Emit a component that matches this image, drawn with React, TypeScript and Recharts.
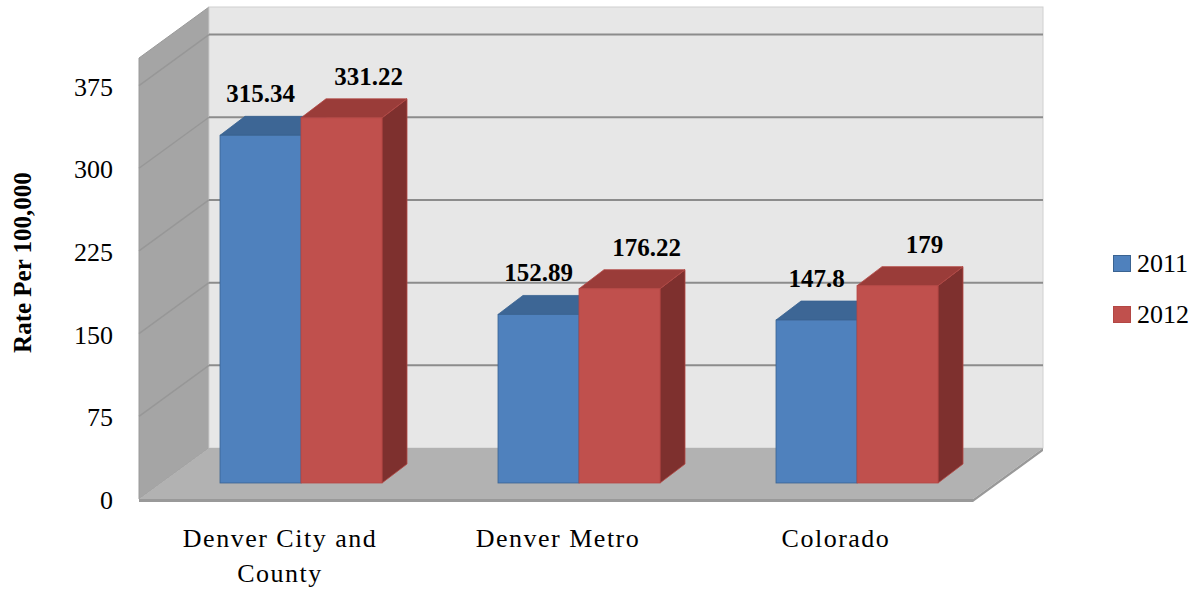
import React from "react";
import {
  Bar,
  BarChart,
  LabelList,
  Legend,
  ReferenceArea,
  ReferenceLine,
  XAxis,
  YAxis,
} from "recharts";

const categories = ["Denver City and County", "Denver Metro", "Colorado"];
const rate2011 = [315.34, 152.89, 147.8];
const rate2012 = [331.22, 176.22, 179];
const yTicks = [0, 75, 150, 225, 300, 375];
const gridValues = [75, 150, 225, 300, 375];

const data = categories.map((name, i) => ({
  name,
  y2011: rate2011[i],
  y2012: rate2012[i],
}));

const FONT = '"Liberation Serif", "Times New Roman", serif';

// offsets of the back wall / front edge relative to the plane the bars stand on
const BACK = { dx: 47, dy: -35 };
const FRONT = { dx: -23, dy: 16 };
const BAR_DEPTH = { dx: 25, dy: -19 };

const SERIES = [
  { key: "y2011", name: "2011", front: "#4F81BD", top: "#3D6695", side: "#3A5F8B", edge: "#3A6391", labelShift: 0 },
  { key: "y2012", name: "2012", front: "#C0504D", top: "#9A3C39", side: "#7E302E", edge: "#B34744", labelShift: 27 },
];

const Walls = (props: any) => {
  const { x, y, width, height } = props;
  const b = y + height;
  const bx = x + BACK.dx;
  const fx = x + FRONT.dx;
  return (
    <g>
      <polygon
        points={`${fx},${y + FRONT.dy} ${bx},${y + BACK.dy} ${bx},${b + BACK.dy} ${fx},${b + FRONT.dy}`}
        fill="#A5A5A5"
        stroke="#9A9A9A"
      />
      <rect x={bx} y={y + BACK.dy} width={width} height={height} fill="#E7E7E7" stroke="#D0D0D0" />
      <polygon
        points={`${fx},${b + FRONT.dy} ${bx},${b + BACK.dy} ${bx + width},${b + BACK.dy} ${fx + width},${b + FRONT.dy}`}
        fill="#B2B2B2"
      />
      <polygon
        points={`${fx},${b + FRONT.dy} ${fx + width},${b + FRONT.dy} ${bx + width},${b + BACK.dy} ${bx + width},${b + BACK.dy + 3} ${fx + width},${b + FRONT.dy + 3} ${fx},${b + FRONT.dy + 3}`}
        fill="#999999"
      />
    </g>
  );
};

const GridLine = (props: any) => {
  const { x1, y1, x2 } = props;
  return (
    <g>
      <line
        x1={x1 + FRONT.dx}
        y1={y1 + FRONT.dy}
        x2={x1 + BACK.dx}
        y2={y1 + BACK.dy}
        stroke="#979797"
        strokeWidth={1.5}
      />
      <line
        x1={x1 + BACK.dx}
        y1={y1 + BACK.dy}
        x2={x2 + BACK.dx}
        y2={y1 + BACK.dy}
        stroke="#8C8C8C"
        strokeWidth={2}
      />
    </g>
  );
};

const boxShape = (s: (typeof SERIES)[number]) => (props: any) => {
  const { x, y, width: w, height: h } = props;
  const { dx, dy } = BAR_DEPTH;
  return (
    <g>
      <polygon
        points={`${x + w},${y} ${x + w + dx},${y + dy} ${x + w + dx},${y + h + dy} ${x + w},${y + h}`}
        fill={s.side}
        stroke={s.edge}
        strokeWidth={0.8}
      />
      <polygon
        points={`${x},${y} ${x + dx},${y + dy} ${x + w + dx},${y + dy} ${x + w},${y}`}
        fill={s.top}
        stroke={s.edge}
        strokeWidth={0.8}
      />
      <rect x={x} y={y} width={w} height={h} fill={s.front} stroke={s.edge} strokeWidth={0.8} />
    </g>
  );
};

const valueLabel = (shift: number) => (props: any) => {
  const vb = props.viewBox ?? props;
  return (
    <text
      x={vb.x + vb.width / 2 + shift}
      y={vb.y - 33}
      textAnchor="middle"
      fontFamily={FONT}
      fontSize={25}
      fontWeight="bold"
      fill="#000"
    >
      {props.value}
    </text>
  );
};

const wrap = (label: string, max: number) => {
  const lines: string[] = [];
  let cur = "";
  label.split(" ").forEach((word) => {
    const next = cur ? `${cur} ${word}` : word;
    if (next.length > max && cur) {
      lines.push(cur);
      cur = word;
    } else {
      cur = next;
    }
  });
  if (cur) lines.push(cur);
  return lines;
};

const CategoryTick = (props: any) => {
  const { x, y, payload } = props;
  const cx = x + FRONT.dx + 2;
  return (
    <text
      x={cx}
      y={y + 64}
      textAnchor="middle"
      fontFamily={FONT}
      fontSize={26}
      letterSpacing={1.5}
      fill="#000"
    >
      {wrap(payload.value, 15).map((line, i) => (
        <tspan key={i} x={cx} dy={i ? 35 : 0}>
          {line}
        </tspan>
      ))}
    </text>
  );
};

const ValueTick = (props: any) => {
  const { x, y, payload } = props;
  return (
    <text x={x - 49} y={y + 26} textAnchor="end" fontFamily={FONT} fontSize={26} fill="#000">
      {payload.value}
    </text>
  );
};

const AxisTitle = (props: any) => {
  const vb = props.viewBox ?? { x: 0, y: 42, width: 162, height: 441 };
  const cx = vb.x + 22;
  const cy = vb.y + vb.height / 2;
  return (
    <text
      x={cx}
      y={cy}
      transform={`rotate(-90 ${cx} ${cy})`}
      textAnchor="middle"
      dominantBaseline="central"
      fontFamily={FONT}
      fontSize={25}
      fontWeight="bold"
      fill="#000"
    >
      Rate Per 100,000
    </text>
  );
};

const LegendBox = () => (
  <div style={{ fontFamily: FONT, fontSize: 26, color: "#000" }}>
    {SERIES.map((s) => (
      <div key={s.key} style={{ display: "flex", alignItems: "center", height: 51 }}>
        <span
          style={{
            display: "inline-block",
            width: 16,
            height: 15,
            background: s.front,
            border: `1px solid ${s.edge}`,
            marginRight: 6,
          }}
        />
        <span>{s.name}</span>
      </div>
    ))}
  </div>
);

const App = () => {
  return (
    <div style={{ position: "absolute", left: 0, top: 0 }}>
      <BarChart
        width={1198}
        height={590}
        data={data}
        margin={{ top: 42, right: 202, bottom: 0, left: 0 }}
        barGap={0}
        barSize={81}
      >
        <XAxis
          dataKey="name"
          height={107}
          axisLine={false}
          tickLine={false}
          tickSize={0}
          tickMargin={0}
          interval={0}
          tick={<CategoryTick />}
        />
        <YAxis
          domain={[0, 400]}
          ticks={yTicks}
          width={162}
          axisLine={false}
          tickLine={false}
          tickSize={0}
          tickMargin={0}
          interval={0}
          tick={<ValueTick />}
          label={{ position: "insideLeft", content: AxisTitle }}
        />
        <ReferenceArea y1={0} y2={400} shape={Walls} zIndex={-200} ifOverflow="visible" />
        {gridValues.map((v) => (
          <ReferenceLine key={v} y={v} shape={GridLine} zIndex={-150} ifOverflow="visible" />
        ))}
        <Legend
          layout="vertical"
          align="center"
          verticalAlign="middle"
          wrapperStyle={{ left: 1113, top: 238, width: 90 }}
          content={<LegendBox />}
        />
        {SERIES.map((s) => (
          <Bar
            key={s.key}
            dataKey={s.key}
            name={s.name}
            fill={s.front}
            shape={boxShape(s)}
            isAnimationActive={false}
          >
            <LabelList dataKey={s.key} content={valueLabel(s.labelShift)} />
          </Bar>
        ))}
      </BarChart>
    </div>
  );
};

export default App;
